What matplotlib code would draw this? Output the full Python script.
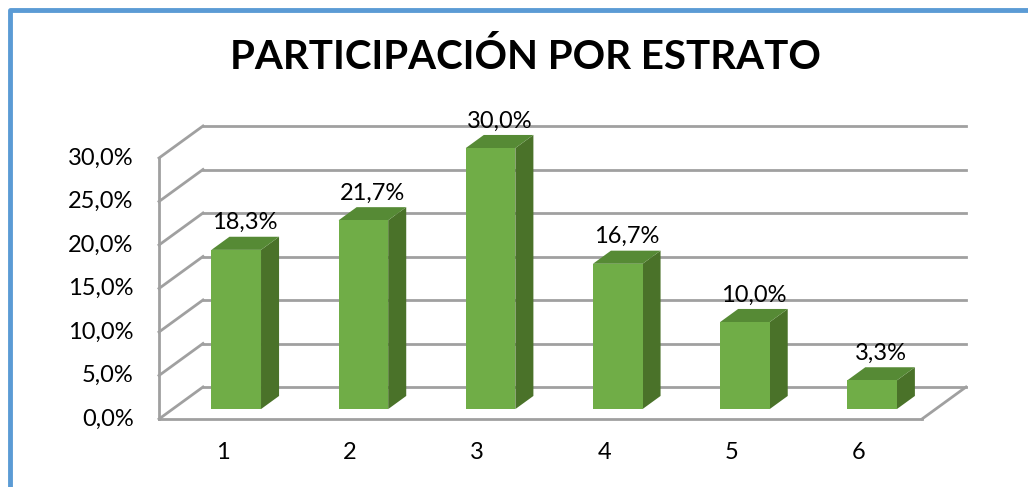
import matplotlib
matplotlib.use("Agg")
import matplotlib.pyplot as plt
from matplotlib.patches import Polygon
from matplotlib.lines import Line2D

# data
categories = ["1", "2", "3", "4", "5", "6"]
values     = [0.183, 0.217, 0.300, 0.167, 0.100, 0.033]
yticks     = [0.0, 0.05, 0.10, 0.15, 0.20, 0.25, 0.30]
title      = "PARTICIPACIÓN POR ESTRATO"

FONT   = ["Lato", "DejaVu Sans"]
FRONT  = "#70AD47"
TOP    = "#568A35"
SIDE   = "#4A7229"
GRID   = "#A0A0A0"
BORDER = "#5B9BD5"

W, H = 1028, 487
fig = plt.figure(figsize=(W / 100, H / 100), dpi=100)

# front plot box in pixels
x0, x1, yb, yt = 159, 922, 419, 158
ax = fig.add_axes([x0 / W, 1 - yb / H, (x1 - x0) / W, (yb - yt) / H])
ax.set_xlim(0.5, 6.5)
ax.set_ylim(0, 0.30)
ax.axis("off")

# depth offsets in data units
DX = 44 / ((x1 - x0) / 6)
DY = 32 / ((yb - yt) / 0.30)
xl, xr = 0.5, 6.5

# back wall gridlines + left wall diagonals
for t in yticks:
    ax.add_line(Line2D([xl + DX, xr + DX], [t + DY, t + DY], color=GRID, lw=2, clip_on=False, zorder=1))
    ax.add_line(Line2D([xl, xl + DX], [t, t + DY], color=GRID, lw=2, clip_on=False, zorder=1))
# left wall front edge
ax.add_line(Line2D([xl, xl], [0, yticks[-1]], color=GRID, lw=2, clip_on=False, zorder=1))
# floor front edge & right edge
ax.add_line(Line2D([xl, xr], [0, 0], color=GRID, lw=2, clip_on=False, zorder=1))
ax.add_line(Line2D([xr, xr + DX], [0, DY], color=GRID, lw=2, clip_on=False, zorder=1))

# bars
bw = 0.39
f0, f1 = 0.31, 0.72   # bar depth as fraction of floor depth
for i, v in enumerate(values):
    c = i + 1 + f0 * DX
    xa, xb = c - bw / 2, c + bw / 2
    yo = f0 * DY
    ddx, ddy = (f1 - f0) * DX, (f1 - f0) * DY
    ax.add_patch(Polygon([(xb, yo), (xb + ddx, yo + ddy), (xb + ddx, yo + v + ddy), (xb, yo + v)],
                         closed=True, fc=SIDE, ec="none", clip_on=False, zorder=3))
    ax.add_patch(Polygon([(xa, yo + v), (xb, yo + v), (xb + ddx, yo + v + ddy), (xa + ddx, yo + v + ddy)],
                         closed=True, fc=TOP, ec="none", clip_on=False, zorder=3))
    ax.add_patch(Polygon([(xa, yo), (xb, yo), (xb, yo + v), (xa, yo + v)],
                         closed=True, fc=FRONT, ec="none", clip_on=False, zorder=3))
    lbl = f"{v * 100:.1f}%".replace(".", ",")
    ax.text(c + ddx / 2, yo + v + ddy + 0.004, lbl, ha="center", va="bottom",
            fontsize=17, family=FONT, color="black", clip_on=False, zorder=4)

# tick labels
for t in yticks:
    ax.text(0.5 - 0.2, t, f"{t * 100:.1f}%".replace(".", ","), ha="right", va="center",
            fontsize=17, family=FONT, clip_on=False)
for i, cat in enumerate(categories):
    ax.text(i + 1, -0.038, cat, ha="center", va="center", fontsize=17, family=FONT, clip_on=False)

fig.text(525 / W, 1 - 57 / H, title, ha="center", va="center", fontsize=29,
         fontweight="bold", family=FONT)

# chart area border (left and top visible)
fig.add_artist(Line2D([10 / W, 10 / W, 1.0], [0.0, 1 - 10 / H, 1 - 10 / H],
                      transform=fig.transFigure, color=BORDER, lw=3.5))

fig.savefig("out.png", dpi=100, facecolor="white")
